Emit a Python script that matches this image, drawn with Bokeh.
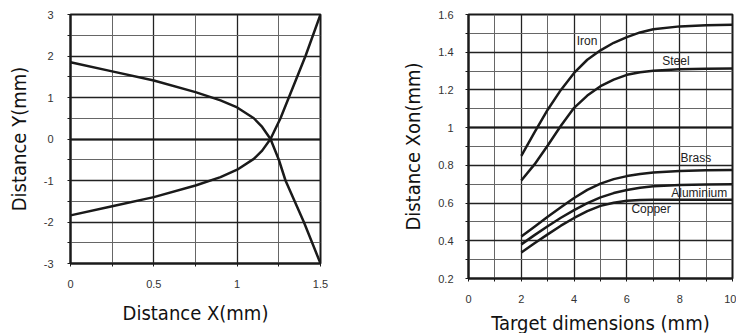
from bokeh.plotting import figure
from bokeh.layouts import row, column
from bokeh.models import FixedTicker, Grid
from bokeh.core.properties import value
from bokeh.embed import file_html
from bokeh.resources import INLINE

# ---------------- Left chart data ----------------
left_x_ticks = [0, 0.5, 1, 1.5]
left_x_minor = [0.25, 0.75, 1.25]
left_x_labels = ["0", "0.5", "1", "1.5"]
left_y_ticks = [-3, -2, -1, 0, 1, 2, 3]
left_y_minor = [-2.5, -1.5, -0.5, 0.5, 1.5, 2.5]
left_y_labels = ["-3", "-2", "-1", "0", "1", "2", "3"]

curve_a_x = [0, 0.25, 0.5, 0.75, 0.9, 1.0, 1.1, 1.15, 1.2, 1.25, 1.29, 1.4, 1.5]
curve_a_y = [1.85, 1.63, 1.41, 1.13, 0.93, 0.76, 0.5, 0.29, 0.0, -0.5, -1.0, -2.0, -3.0]
curve_b_x = [0, 0.25, 0.5, 0.75, 0.9, 1.0, 1.1, 1.15, 1.2, 1.26, 1.31, 1.41, 1.5]
curve_b_y = [-1.84, -1.62, -1.4, -1.12, -0.92, -0.74, -0.48, -0.28, 0.0, 0.5, 1.0, 2.0, 3.0]

# ---------------- Right chart data ----------------
right_x_ticks = [0, 2, 4, 6, 8, 10]
right_x_minor = [1, 3, 5, 7, 9]
right_y_ticks = [0.2, 0.4, 0.6, 0.8, 1.0, 1.2, 1.4, 1.6]
right_y_minor = [0.3, 0.5, 0.7, 0.9, 1.1, 1.3, 1.5]
right_y_labels = ["0.2", "0.4", "0.6", "0.8", "1", "1.2", "1.4", "1.6"]

target = [2, 2.5, 3, 3.5, 4, 4.5, 5, 5.5, 6, 6.5, 7, 8, 9, 10]
iron = [0.85, 0.975, 1.095, 1.20, 1.29, 1.36, 1.41, 1.45, 1.48, 1.505, 1.522, 1.537, 1.543, 1.545]
steel = [0.72, 0.805, 0.905, 1.01, 1.105, 1.17, 1.22, 1.255, 1.28, 1.294, 1.302, 1.31, 1.312, 1.313]
brass = [0.423, 0.475, 0.527, 0.578, 0.627, 0.67, 0.703, 0.727, 0.743, 0.754, 0.762, 0.77, 0.774, 0.775]
aluminium = [0.381, 0.43, 0.477, 0.522, 0.563, 0.6, 0.63, 0.653, 0.669, 0.681, 0.689, 0.696, 0.699, 0.7]
copper = [0.338, 0.387, 0.434, 0.48, 0.521, 0.557, 0.585, 0.602, 0.612, 0.616, 0.617, 0.618, 0.618, 0.618]

series_names = ["Iron", "Steel", "Brass", "Aluminium", "Copper"]
series_values = [iron, steel, brass, aluminium, copper]
label_x = [4.1, 7.34, 8.03, 7.68, 6.17]
label_y = [1.458, 1.356, 0.84, 0.655, 0.566]

TICK_FONT = "Liberation Sans"
TITLE_FONT = "DejaVu Sans Condensed, Roboto, sans-serif"
DARK = "#1a1a1a"


def style(p, xt, xm, yt, ym, xlab, ylab, heavy):
    p.xaxis.ticker = FixedTicker(ticks=xt, minor_ticks=xm)
    p.yaxis.ticker = FixedTicker(ticks=yt, minor_ticks=ym)
    if xlab is not None:
        p.xaxis.major_label_overrides = dict(zip(xt, xlab))
    if ylab is not None:
        p.yaxis.major_label_overrides = dict(zip(yt, ylab))
    for ax in (p.xaxis, p.yaxis):
        ax.axis_line_color = DARK
        ax.axis_line_width = 2
        ax.major_tick_line_color = DARK
        ax.minor_tick_line_color = DARK
        ax.major_tick_in = 0
        ax.major_tick_out = 3
        ax.minor_tick_in = 0
        ax.minor_tick_out = 3
        ax.major_label_text_font = TICK_FONT
        ax.major_label_text_font_size = "11px"
        ax.major_label_text_color = "#333333"
        ax.axis_label_text_font = TITLE_FONT
        ax.axis_label_text_font_size = "20px"
        ax.axis_label_text_font_style = "normal"
        ax.axis_label_text_color = "#111111"
    for g in (p.xgrid, p.ygrid):
        g.grid_line_color = "#222222"
        g.grid_line_width = 1.3
        g.minor_grid_line_color = "#666666"
        g.minor_grid_line_width = 1
    hg = Grid(dimension=1, ticker=FixedTicker(ticks=[heavy]),
              grid_line_color=DARK, grid_line_width=2.2)
    p.add_layout(hg)
    p.outline_line_color = DARK
    p.outline_line_width = 2
    p.outline_line_alpha = 1


p1 = figure(width=380, height=333, x_range=(0, 1.5), y_range=(-3, 3),
            output_backend="svg", toolbar_location=None, sizing_mode="fixed",
            min_border_left=70, min_border_right=60,
            min_border_top=14, min_border_bottom=70)
p1.xaxis.axis_label = "Distance X(mm)"
p1.yaxis.axis_label = "Distance Y(mm)"
style(p1, left_x_ticks, left_x_minor, left_y_ticks, left_y_minor,
      left_x_labels, left_y_labels, 0)
p1.xaxis.major_label_standoff = 13
p1.yaxis.major_label_standoff = 14
p1.xaxis.axis_label_standoff = 10
p1.yaxis.axis_label_standoff = 10
p1.line(curve_a_x, curve_a_y, line_color=DARK, line_width=2.5)
p1.line(curve_b_x, curve_b_y, line_color=DARK, line_width=2.5)

# taller than the window on purpose: only its lowest blank strip falls outside
p2 = figure(width=356, height=345, x_range=(0, 10), y_range=(0.2, 1.6),
            output_backend="svg", toolbar_location=None, sizing_mode="fixed",
            min_border_left=88, min_border_right=4,
            min_border_top=14, min_border_bottom=67)
p2.xaxis.axis_label = "Target dimensions (mm)"
p2.yaxis.axis_label = "Distance Xon(mm)"
style(p2, right_x_ticks, right_x_minor, right_y_ticks, right_y_minor,
      None, right_y_labels, 1.0)
p2.xaxis.major_label_standoff = 13
p2.yaxis.major_label_standoff = 12
p2.xaxis.axis_label_standoff = 5
p2.yaxis.axis_label_standoff = 10
for vals in series_values:
    p2.line(target, vals, line_color=DARK, line_width=2.5)
p2.text(x=label_x, y=label_y, text=series_names,
        text_font=value(TICK_FONT), text_font_size="12px",
        text_baseline="middle", text_align="left", text_color="#222222")

layout = row(column(p1, sizing_mode="fixed"), column(p2, sizing_mode="fixed"),
             sizing_mode="fixed")
open("out.html", "w").write(file_html(layout, INLINE))
